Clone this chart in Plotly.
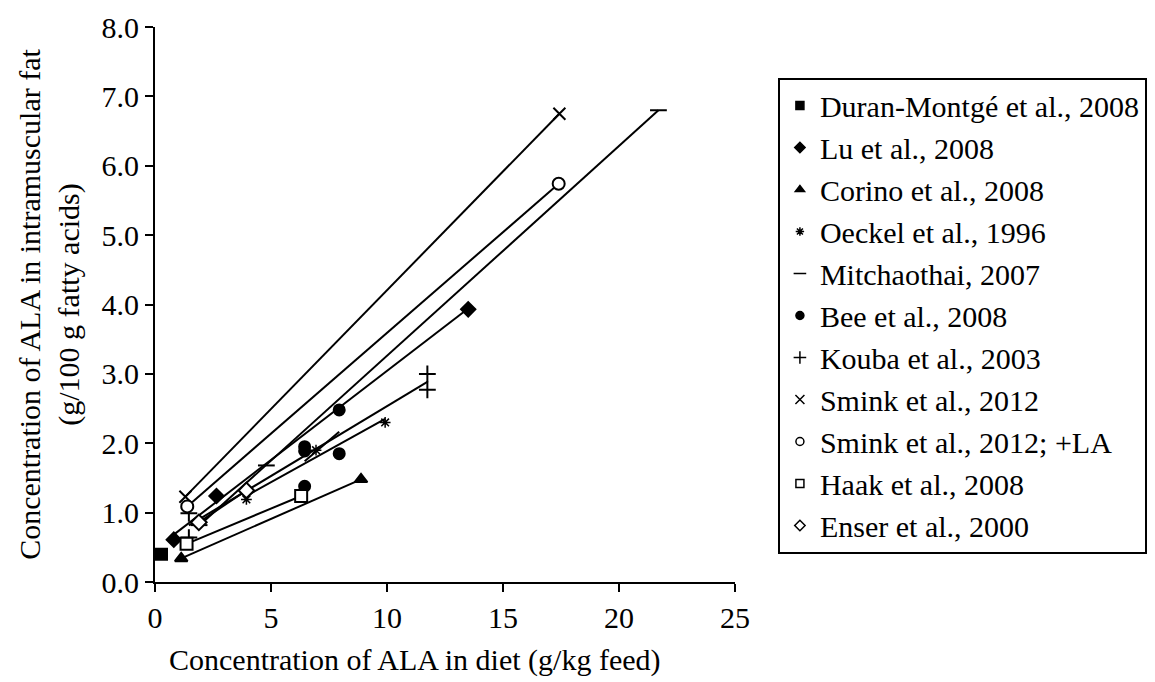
import numpy as np
import plotly.graph_objects as go

# ---- data ----
names = ["Duran-Montgé et al., 2008", "Lu et al., 2008", "Corino et al., 2008",
         "Oeckel et al., 1996", "Mitchaothai, 2007", "Bee et al., 2008",
         "Kouba et al., 2003", "Smink et al., 2012", "Smink et al., 2012; +LA",
         "Haak et al., 2008", "Enser et al., 2000"]

duran_x = [0.28]
duran_y = [0.40]
lu_x = [0.81, 2.65, 13.5]
lu_y = [0.61, 1.24, 3.93]
corino_x = [1.13, 8.88]
corino_y = [0.34, 1.48]
oeckel_x = [3.94, 6.94, 9.92]
oeckel_y = [1.19, 1.90, 2.30]
mitch_x = [1.9, 4.8, 21.7]
mitch_y = [0.82, 1.68, 6.80]
bee_x = [6.45, 6.45, 6.45, 7.94, 7.94]
bee_y = [1.38, 1.89, 1.95, 1.85, 2.48]
kouba_x = [1.46, 1.46, 11.74, 11.74]
kouba_y = [0.99, 0.64, 3.00, 2.77]
smink_x = [1.31, 17.43]
smink_y = [1.23, 6.75]
sminkla_x = [1.39, 17.4]
sminkla_y = [1.09, 5.74]
haak_x = [1.36, 6.3]
haak_y = [0.55, 1.24]
enser_x = [1.89, 3.94]
enser_y = [0.86, 1.32]

x_ticks = [0, 5, 10, 15, 20, 25]
y_ticks = [0, 1, 2, 3, 4, 5, 6, 7, 8]

xs = [duran_x, lu_x, corino_x, oeckel_x, mitch_x, bee_x, kouba_x, smink_x, sminkla_x, haak_x, enser_x]
ys = [duran_y, lu_y, corino_y, oeckel_y, mitch_y, bee_y, kouba_y, smink_y, sminkla_y, haak_y, enser_y]

symbols = ["square", "diamond", "triangle-up", "asterisk-open", "line-ew-open", "circle",
           "cross-thin-open", "x-thin-open", "circle-open", "square-open", "diamond-open"]
sizes = [11, 11, 11, 9, 12, 11, 12, 12, 12, 12, 12]
leg_sizes = [8, 8, 8, 7, 9, 8, 9, 9, 8, 8, 8]

FONT = "Liberation Serif"
FS = 30

fig = go.Figure()

# trend lines (linear fit over each series' x-range)
for x, y in zip(xs, ys):
    if len(set(x)) < 2:
        continue
    a, b = np.polyfit(x, y, 1)
    xl = [min(x), max(x)]
    fig.add_trace(go.Scatter(x=xl, y=[a * v + b for v in xl], mode="lines",
                             line=dict(color="black", width=2), showlegend=False,
                             hoverinfo="skip"))


def mk(sym, size):
    fill_white = sym in ("circle-open", "square-open", "diamond-open")
    return dict(symbol=sym.replace("-open", "") if fill_white else sym, size=size,
                color="white" if fill_white else "black",
                line=dict(color="black", width=2 if size > 9 else 1.5))


for i, (n, x, y) in enumerate(zip(names, xs, ys)):
    fig.add_trace(go.Scatter(x=x, y=y, mode="markers", name=n, showlegend=False,
                             marker=mk(symbols[i], sizes[i])))

# legend entries (smaller symbols, as in the reference legend)
for i, n in enumerate(names):
    fig.add_trace(go.Scatter(x=[None], y=[None], mode="markers", name=n,
                             legendgroup=str(i), marker=mk(symbols[i], leg_sizes[i])))

fig.update_layout(
    width=1147, height=674,
    paper_bgcolor="white", plot_bgcolor="white",
    margin=dict(l=147, r=420, t=19, b=100, autoexpand=False),
    font=dict(family=FONT, size=FS, color="black"),
    showlegend=True,
    legend=dict(x=1.074, y=0.909, xanchor="left", yanchor="top",
                bordercolor="black", borderwidth=2, bgcolor="white",
                font=dict(family=FONT, size=30, color="black"),
                tracegroupgap=0, itemwidth=30, itemsizing="trace"),
    xaxis=dict(range=[0, 25], tickvals=x_ticks, showgrid=False,
               zeroline=False, showline=True, linecolor="black", linewidth=2,
               ticks="outside", ticklen=8, tickwidth=2, tickcolor="black",
               tickfont=dict(family=FONT, size=FS, color="black")),
    yaxis=dict(range=[0, 8], tickvals=y_ticks, tickformat=".1f",
               showgrid=False, zeroline=False, showline=True, linecolor="black", linewidth=2,
               ticks="outside", ticklen=8, tickwidth=2, tickcolor="black",
               tickfont=dict(family=FONT, size=FS, color="black"),
               title=dict(text="Concentration of ALA in intramuscular fat<br>(g/100 g fatty acids)", standoff=13,
                          font=dict(family=FONT, size=FS, color="black"))),
    annotations=[dict(text="Concentration of ALA in diet (g/kg feed)", xref="paper", yref="paper",
                      x=0.449, y=-0.141, xanchor="center", yanchor="middle", showarrow=False,
                      font=dict(family=FONT, size=FS, color="black"))],
)

fig.write_html("out.html")
